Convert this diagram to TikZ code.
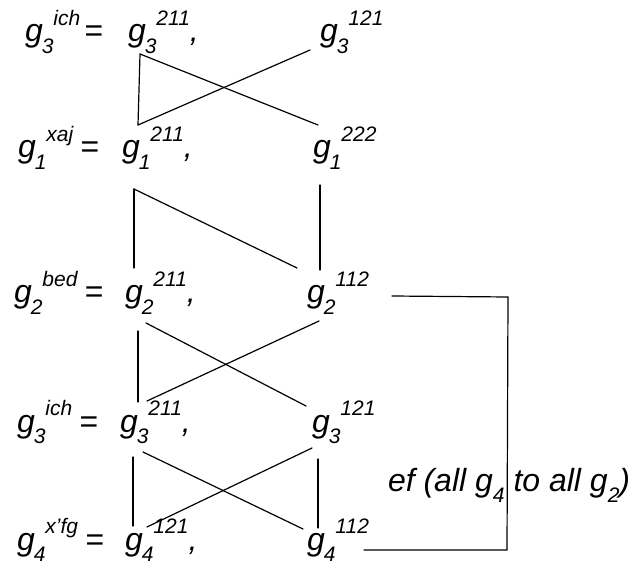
\documentclass[tikz,border=0pt]{standalone}
\usepackage{fontspec}
\setmainfont{Liberation Sans}
\newcommand{\subsz}{\fontsize{21}{21}\selectfont}
\newcommand{\gl}[2]{g\kern-1pt\raisebox{-0.36em}{\subsz #1}\raisebox{0.53em}{\subsz #2}}
\tikzset{
  lbl/.style={anchor=base west, inner sep=0pt, outer sep=0pt, font=\fontsize{32}{32}\selectfont\itshape},
  conn/.style={line width=1.2pt, line cap=round}
}
\begin{document}
\begin{tikzpicture}[x=1pt,y=-1pt]
\useasboundingbox (0,0) rectangle (632,569);
% row 1
\node[lbl] (r1l) at (25,42) {\gl{3}{ich}\kern-5pt\ =};
\node[lbl] (r1m) at (128,42) {\gl{3}{211},};
\node[lbl] (r1r) at (320,42) {\gl{3}{121}};
% row 2
\node[lbl] (r2l) at (18,158) {\gl{1}{xaj}\kern-2pt\ =};
\node[lbl] (r2m) at (122,158) {\gl{1}{211},};
\node[lbl] (r2r) at (313,158) {\gl{1}{222}};
% row 3
\node[lbl] (r3l) at (14,303) {\gl{2}{bed}\kern-2pt\ =};
\node[lbl] (r3m) at (125,303) {\gl{2}{211},};
\node[lbl] (r3r) at (307,303) {\gl{2}{112}};
% row 4
\node[lbl] (r4l) at (17,432) {\gl{3}{ich}\kern-2pt\ =};
\node[lbl] (r4m) at (120,432) {\gl{3}{211},};
\node[lbl] (r4r) at (312,432) {\gl{3}{121}};
% row 5
\node[lbl] (r5l) at (17,550) {\gl{4}{x'fg}\kern-2pt\ =};
\node[lbl] (r5m) at (125,550) {\gl{4}{121},};
\node[lbl] (r5r) at (307,550) {\gl{4}{112}};
% label
\node[lbl] (ef) at (388,491) {ef (all g\raisebox{-0.36em}{\subsz 4} to all g\raisebox{-0.36em}{\subsz 2})};
% connector end points
\coordinate (a1) at (140,54);  \coordinate (a2) at (138,125);
\coordinate (a3) at (318,125); \coordinate (a4) at (310,50);
\coordinate (b1) at (134,189); \coordinate (b2) at (134,268);
\coordinate (b3) at (297,268); \coordinate (b4) at (320,185);
\coordinate (b5) at (320,270);
\coordinate (c1) at (138,331); \coordinate (c2) at (138,402);
\coordinate (c3) at (146,323); \coordinate (c4) at (306,406);
\coordinate (c5) at (147,401); \coordinate (c6) at (319,321);
\coordinate (d1) at (133,457); \coordinate (d2) at (133,526);
\coordinate (d3) at (143,452); \coordinate (d4) at (303,529);
\coordinate (d5) at (147,527); \coordinate (d6) at (312,448);
\coordinate (d7) at (318,459); \coordinate (d8) at (318,528);
\coordinate (e1) at (392,296); \coordinate (e2) at (508,297);
\coordinate (e3) at (507,550); \coordinate (e4) at (364,550);
% connectors
\draw[conn] (a1) -- (a2);
\draw[conn] (a1) -- (a3);
\draw[conn] (a2) -- (a4);
\draw[conn] (b1) -- (b2);
\draw[conn] (b1) -- (b3);
\draw[conn] (b4) -- (b5);
\draw[conn] (c1) -- (c2);
\draw[conn] (c3) -- (c4);
\draw[conn] (c5) -- (c6);
\draw[conn] (d1) -- (d2);
\draw[conn] (d3) -- (d4);
\draw[conn] (d5) -- (d6);
\draw[conn] (d7) -- (d8);
\draw[conn] (e1) -- (e2) -- (e3) -- (e4);
\end{tikzpicture}
\end{document}
